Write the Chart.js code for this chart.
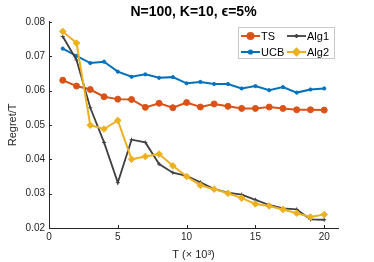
<!DOCTYPE html>
<html>
<head>
<meta charset="utf-8">
<script src="https://cdn.jsdelivr.net/npm/chart.js@4.4.0/dist/chart.umd.min.js"></script>
<style>
  html, body { margin: 0; padding: 0; background: #fff; }
  #wrap { width: 374px; height: 262px; }
</style>
</head>
<body>
<div id="wrap"><canvas id="myChart" width="374" height="262"></canvas></div>
<script>
// T in thousands
var steps = [1, 2, 3, 4, 5, 6, 7, 8, 9, 10, 11, 12, 13, 14, 15, 16, 17, 18, 19, 20];
var ts   = [0.0630, 0.0613, 0.0603, 0.0582, 0.0575, 0.0574, 0.0551, 0.0563, 0.0550, 0.0565,
            0.0552, 0.0561, 0.0554, 0.0548, 0.0548, 0.0552, 0.0548, 0.0544, 0.0544, 0.0543];
var ucb  = [0.0722, 0.0701, 0.0680, 0.0684, 0.0655, 0.0640, 0.0647, 0.0637, 0.0639, 0.0621,
            0.0625, 0.0619, 0.0619, 0.0606, 0.0613, 0.0601, 0.0610, 0.0594, 0.0603, 0.0606];
var alg1 = [0.0757, 0.0689, 0.0550, 0.0449, 0.0332, 0.0457, 0.0449, 0.0386, 0.0361, 0.0352,
            0.0333, 0.0313, 0.0303, 0.0297, 0.0282, 0.0267, 0.0257, 0.0254, 0.0225, 0.0224];
var alg2 = [0.0772, 0.0738, 0.0499, 0.0488, 0.0513, 0.0400, 0.0408, 0.0415, 0.0381, 0.0350,
            0.0324, 0.0313, 0.0301, 0.0287, 0.0270, 0.0264, 0.0254, 0.0243, 0.0232, 0.0239];
var xTicks = [0, 5, 10, 15, 20];
var yTicks = [0.02, 0.03, 0.04, 0.05, 0.06, 0.07, 0.08];

var axisColor = '#262626';
var font = 'Liberation Sans, Arial, Helvetica, sans-serif';

function pts(ys) {
  return steps.map(function (x, i) { return { x: x, y: ys[i] }; });
}

function keepTicks(list) {
  return function (scale) {
    scale.ticks = list.map(function (v) { return { value: v }; });
  };
}

// matlab style: ticks pointing inward, legend box inside the axes
var matlabBits = {
  id: 'matlabBits',
  afterDraw: function (chart) {
    var ctx = chart.ctx;
    var xs = chart.scales.x, ys = chart.scales.y;
    var area = chart.chartArea;
    ctx.save();
    ctx.strokeStyle = axisColor;
    ctx.lineWidth = 1;
    ctx.beginPath();
    xTicks.forEach(function (v) {
      var px = Math.round(xs.getPixelForValue(v)) + 0.5;
      ctx.moveTo(px, area.bottom);
      ctx.lineTo(px, area.bottom - 3);
    });
    yTicks.forEach(function (v) {
      var py = Math.round(ys.getPixelForValue(v)) + 0.5;
      ctx.moveTo(area.left, py);
      ctx.lineTo(area.left + 3, py);
    });
    ctx.stroke();

    // legend
    var bx = 238.5, by = 27.5, bw = 96, bh = 31;
    ctx.fillStyle = '#fff';
    ctx.fillRect(bx, by, bw, bh);
    ctx.strokeStyle = '#c8c8c8';
    ctx.strokeRect(bx, by, bw, bh);
    var slots = [[241, 36], [241, 52], [287, 36], [287, 52]];
    ctx.font = '11px ' + font;
    ctx.textBaseline = 'middle';
    chart.data.datasets.forEach(function (ds, i) {
      var sx = slots[i][0], sy = slots[i][1];
      ctx.strokeStyle = ds.borderColor;
      ctx.lineWidth = ds.borderWidth;
      ctx.beginPath();
      ctx.moveTo(sx, sy);
      ctx.lineTo(sx + 19, sy);
      ctx.stroke();
      ctx.fillStyle = ds.pointBackgroundColor;
      ctx.strokeStyle = ds.borderColor;
      Chart.helpers.drawPoint(ctx, {
        pointStyle: ds.pointStyle, radius: ds.pointRadius, rotation: 0, borderWidth: ds.pointBorderWidth
      }, sx + 9.5, sy);
      ctx.fillStyle = '#000';
      ctx.fillText(ds.label, sx + 20, sy + 0.5);
    });
    ctx.restore();
  }
};

var ctx = document.getElementById('myChart').getContext('2d');
var myChart = new Chart(ctx, {
  type: 'line',
  data: {
    datasets: [{
      label: 'TS',
      data: pts(ts),
      borderColor: '#D95319',
      pointBackgroundColor: '#D95319',
      borderWidth: 2,
      pointStyle: 'circle',
      pointRadius: 3,
      pointBorderWidth: 1,
      order: 4
    }, {
      label: 'UCB',
      data: pts(ucb),
      borderColor: '#0072BD',
      pointBackgroundColor: '#0072BD',
      borderWidth: 2,
      pointStyle: 'circle',
      pointRadius: 1.6,
      pointBorderWidth: 1,
      order: 3
    }, {
      label: 'Alg1',
      data: pts(alg1),
      borderColor: '#404040',
      pointBackgroundColor: '#404040',
      borderWidth: 1.8,
      pointStyle: 'cross',
      pointRadius: 2,
      pointBorderWidth: 1,
      order: 2
    }, {
      label: 'Alg2',
      data: pts(alg2),
      borderColor: '#EDB120',
      pointBackgroundColor: '#EDB120',
      borderWidth: 2,
      pointStyle: 'rectRot',
      pointRadius: 3.3,
      pointBorderWidth: 1,
      order: 1
    }]
  },
  options: {
    responsive: false,
    animation: false,
    events: [],
    layout: { padding: { left: 6, right: 36, top: 0, bottom: 0 } },
    elements: { line: { tension: 0, fill: false } },
    plugins: {
      legend: { display: false },
      tooltip: { enabled: false },
      title: {
        display: true,
        fullSize: false,
        text: 'N=100, K=10, \u03F5=5%',
        color: '#000',
        font: { family: font, size: 14, weight: 'bold' },
        padding: { top: 4, bottom: 1 }
      }
    },
    scales: {
      x: {
        type: 'linear',
        min: 0,
        max: 21,
        afterBuildTicks: keepTicks(xTicks),
        afterFit: function (s) { s.height = 34; },
        grid: { drawOnChartArea: false, drawTicks: false },
        border: { color: axisColor, width: 1 },
        ticks: { color: axisColor, padding: 3, font: { family: font, size: 10 } },
        title: {
          display: true,
          text: 'T (\u00D7 10\u00B3)',
          color: axisColor,
          font: { family: font, size: 11 },
          padding: { top: 2, bottom: 0 }
        }
      },
      y: {
        type: 'linear',
        min: 0.02,
        max: 0.08,
        afterBuildTicks: keepTicks(yTicks),
        afterFit: function (s) { s.width = 43; },
        grid: { drawOnChartArea: false, drawTicks: false },
        border: { color: axisColor, width: 1 },
        ticks: {
          color: axisColor,
          padding: 4,
          font: { family: font, size: 10 },
          callback: function (v) { return v.toFixed(2); }
        },
        title: {
          display: true,
          text: 'Regret/T',
          color: axisColor,
          font: { family: font, size: 11 },
          padding: { top: 0, bottom: 0 }
        }
      }
    }
  },
  plugins: [matlabBits]
});
</script>
</body>
</html>
